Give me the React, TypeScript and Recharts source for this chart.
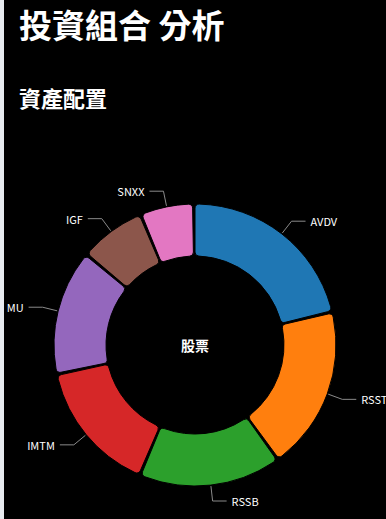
import { PieChart, Pie, Cell } from 'recharts'

const tickers = ['AVDV', 'RSST', 'RSSB', 'IMTM', 'MU', 'IGF', 'SNXX']
const weights = [21.5, 18.9, 16.4, 15.3, 14.4, 7.5, 6.0]
const colors = ['#1f77b4', '#ff7f0e', '#2ca02c', '#d62728', '#9467bd', '#8c564b', '#e377c2']
const centerLabel = '股票'

const data = tickers.map((name, i) => ({ name, value: weights[i] }))

const RADIAN = Math.PI / 180
const FONT = '"Noto Sans CJK TC", "Noto Sans", sans-serif'

// ECharts-like broken label line: radial segment then horizontal
function renderLabel(props: any) {
  const { cx, cy, midAngle, outerRadius, name } = props
  const cos = Math.cos(-midAngle * RADIAN)
  const sin = Math.sin(-midAngle * RADIAN)
  const x1 = cx + (outerRadius + 1) * cos
  const y1 = cy + (outerRadius + 1) * sin
  const x2 = cx + (outerRadius + 16) * cos
  const y2 = cy + (outerRadius + 16) * sin
  const dir = cos >= 0 ? 1 : -1
  const x3 = x2 + dir * 14
  return (
    <g>
      <polyline
        points={`${x1},${y1} ${x2},${y2} ${x3},${y2}`}
        stroke="#8a8a8a"
        strokeWidth={1}
        fill="none"
      />
      <text
        x={x3 + dir * 5}
        y={y2}
        fill="#fff"
        fontSize={11}
        fontFamily={FONT}
        textAnchor={dir > 0 ? 'start' : 'end'}
        dominantBaseline="central"
      >
        {name}
      </text>
    </g>
  )
}

export default function App() {
  return (
    <div style={{ position: 'fixed', inset: 0, background: '#e8ebf0' }}>
      <div
        style={{
          position: 'absolute',
          left: 4,
          top: 0,
          width: 382,
          height: 519,
          background: '#000',
          fontFamily: FONT,
          color: '#fff',
          overflow: 'hidden',
        }}
      >
        <div style={{ position: 'absolute', left: 15, top: 5, fontSize: 33, fontWeight: 700, lineHeight: '38px', whiteSpace: 'nowrap' }}>
          投資組合 分析
        </div>
        <div style={{ position: 'absolute', left: 15, top: 84, fontSize: 22, fontWeight: 700, lineHeight: '26px', whiteSpace: 'nowrap' }}>
          資產配置
        </div>
        <div style={{ position: 'absolute', left: 0, top: 0 }}>
          <PieChart width={382} height={519} margin={{ top: 0, right: 0, bottom: 0, left: 0 }}>
            <Pie
              data={data}
              dataKey="value"
              nameKey="name"
              cx={191}
              cy={345}
              innerRadius={89}
              outerRadius={141}
              startAngle={90}
              endAngle={-270}
              paddingAngle={1}
              cornerRadius={4}
              stroke="#000"
              strokeWidth={1}
              label={renderLabel}
              labelLine={false}
              isAnimationActive={false}
            >
              {data.map((d, i) => (
                <Cell key={d.name} fill={colors[i]} />
              ))}
            </Pie>
          </PieChart>
        </div>
        <div
          style={{
            position: 'absolute',
            left: 141,
            width: 100,
            top: 335,
            textAlign: 'center',
            fontSize: 14,
            fontWeight: 700,
            lineHeight: '20px',
          }}
        >
          {centerLabel}
        </div>
      </div>
    </div>
  )
}
